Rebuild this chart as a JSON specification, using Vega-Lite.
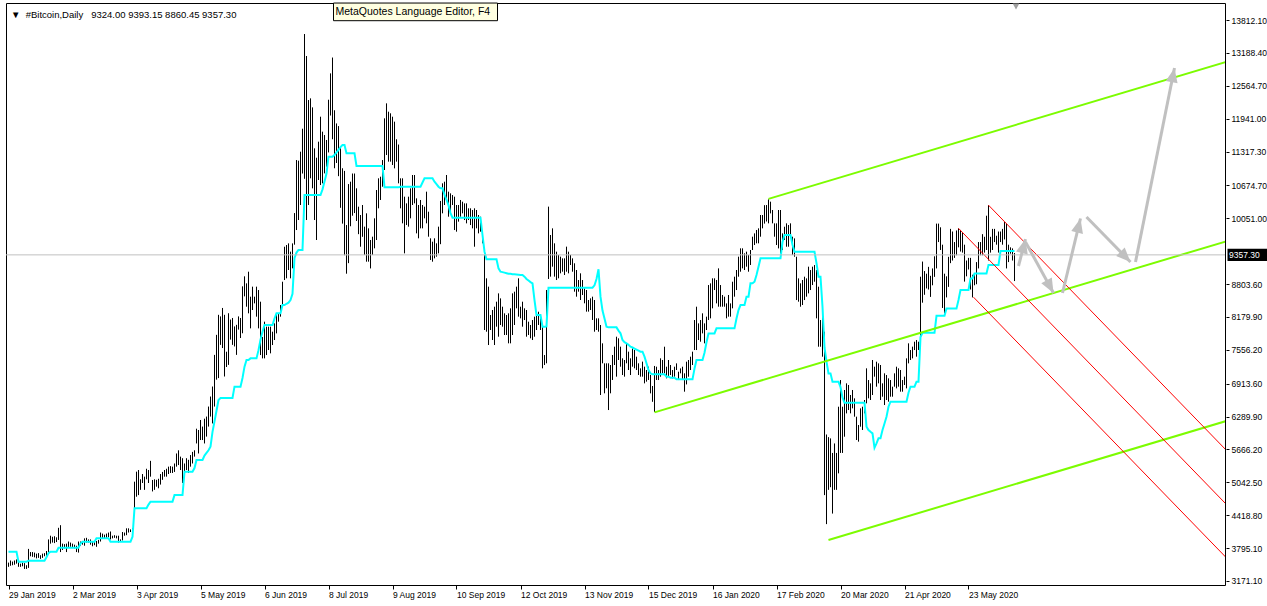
{
"$schema":"https://vega.github.io/schema/vega-lite/v6.json",
"width":1219,"height":582,
"autosize":{"type":"none"},
"padding":{"left":6,"top":3,"right":42,"bottom":21},
"background":"white",
"config":{"view":{"stroke":"black","strokeWidth":1},"font":"Liberation Sans"},
"title":{"text":"▼\u00a0\u00a0#Bitcoin,Daily\u00a0\u00a0\u00a09324.00 9393.15 8860.45 9357.30","anchor":"start","frame":"group","orient":"top","offset":-25,"baseline":"alphabetic","dx":5,"font":"Liberation Sans","fontSize":9.5,"fontWeight":"normal","color":"black"},
"datasets":{
"bars":[
{"t":"2019-01-29","h":3520,"l":3440,"k":3727},{"t":"2019-01-30","h":3560,"l":3460,"k":3727},{"t":"2019-01-31","h":3540,"l":3470,"k":3727},
{"t":"2019-02-01","h":3560,"l":3480,"k":3727},{"t":"2019-02-02","h":3580,"l":3500,"k":3727},{"t":"2019-02-03","h":3540,"l":3440,"k":3537},{"t":"2019-02-04","h":3500,"l":3440,"k":3537},{"t":"2019-02-05","h":3520,"l":3450,"k":3537},{"t":"2019-02-06","h":3510,"l":3400,"k":3537},{"t":"2019-02-07","h":3470,"l":3400,"k":3537},{"t":"2019-02-08","h":3780,"l":3420,"k":3556},{"t":"2019-02-09","h":3720,"l":3640,"k":3556},{"t":"2019-02-10","h":3720,"l":3630,"k":3556},{"t":"2019-02-11","h":3710,"l":3620,"k":3556},{"t":"2019-02-12","h":3690,"l":3600,"k":3556},{"t":"2019-02-13","h":3700,"l":3610,"k":3556},{"t":"2019-02-14","h":3660,"l":3590,"k":3556},{"t":"2019-02-15","h":3690,"l":3610,"k":3556},{"t":"2019-02-16","h":3700,"l":3640,"k":3556},{"t":"2019-02-17","h":3740,"l":3650,"k":3620},{"t":"2019-02-18","h":3960,"l":3700,"k":3700},{"t":"2019-02-19","h":4030,"l":3880,"k":3727},{"t":"2019-02-20","h":4010,"l":3900,"k":3727},{"t":"2019-02-21","h":4020,"l":3890,"k":3727},{"t":"2019-02-22","h":4000,"l":3910,"k":3727},{"t":"2019-02-23","h":4180,"l":3950,"k":3803},{"t":"2019-02-24","h":4230,"l":3720,"k":3803},{"t":"2019-02-25","h":3880,"l":3760,"k":3803},{"t":"2019-02-26","h":3870,"l":3790,"k":3803},{"t":"2019-02-27","h":3880,"l":3720,"k":3803},{"t":"2019-02-28","h":3920,"l":3800,"k":3803},
{"t":"2019-03-01","h":3900,"l":3820,"k":3803},{"t":"2019-03-02","h":3880,"l":3810,"k":3803},{"t":"2019-03-03","h":3860,"l":3790,"k":3803},{"t":"2019-03-04","h":3840,"l":3720,"k":3803},{"t":"2019-03-05","h":3920,"l":3710,"k":3803},{"t":"2019-03-06","h":3920,"l":3840,"k":3880},{"t":"2019-03-07","h":3930,"l":3860,"k":3917},{"t":"2019-03-08","h":3980,"l":3840,"k":3917},{"t":"2019-03-09","h":3990,"l":3900,"k":3917},{"t":"2019-03-10","h":3960,"l":3900,"k":3917},{"t":"2019-03-11","h":3960,"l":3860,"k":3917},{"t":"2019-03-12","h":3910,"l":3830,"k":3917},{"t":"2019-03-13","h":3910,"l":3850,"k":3917},{"t":"2019-03-14","h":3930,"l":3820,"k":3980},{"t":"2019-03-15","h":3950,"l":3880,"k":3980},{"t":"2019-03-16","h":4090,"l":3920,"k":3980},{"t":"2019-03-17","h":4070,"l":3980,"k":3980},{"t":"2019-03-18","h":4050,"l":3980,"k":3980},{"t":"2019-03-19","h":4070,"l":3990,"k":3980},{"t":"2019-03-20","h":4090,"l":4000,"k":3980},{"t":"2019-03-21","h":4110,"l":3960,"k":3917},{"t":"2019-03-22","h":4030,"l":3980,"k":3917},{"t":"2019-03-23","h":4040,"l":3990,"k":3917},{"t":"2019-03-24","h":4030,"l":3980,"k":3917},{"t":"2019-03-25","h":4030,"l":3900,"k":3917},{"t":"2019-03-26","h":3960,"l":3910,"k":3917},{"t":"2019-03-27","h":4100,"l":3940,"k":3917},{"t":"2019-03-28","h":4090,"l":4030,"k":3917},{"t":"2019-03-29","h":4170,"l":4040,"k":3917},{"t":"2019-03-30","h":4170,"l":4090,"k":3917},{"t":"2019-03-31","h":4150,"l":4100,"k":3917},
{"t":"2019-04-01","h":4175,"l":4090,"k":4010},{"t":"2019-04-02","h":5055,"l":4450,"k":4550},{"t":"2019-04-03","h":5245,"l":4770,"k":4550},{"t":"2019-04-04","h":5276,"l":4800,"k":4550},{"t":"2019-04-05","h":5100,"l":4900,"k":4550},{"t":"2019-04-06","h":5200,"l":5030,"k":4550},{"t":"2019-04-07","h":5150,"l":4900,"k":4550},{"t":"2019-04-08","h":5300,"l":5100,"k":4550},{"t":"2019-04-09","h":5276,"l":5030,"k":4620},{"t":"2019-04-10","h":5450,"l":5150,"k":4676},{"t":"2019-04-11","h":5087,"l":4870,"k":4676},{"t":"2019-04-12","h":5100,"l":4900,"k":4676},{"t":"2019-04-13","h":5090,"l":4960,"k":4676},{"t":"2019-04-14","h":5110,"l":4930,"k":4676},{"t":"2019-04-15","h":5200,"l":5000,"k":4676},{"t":"2019-04-16","h":5240,"l":5090,"k":4676},{"t":"2019-04-17","h":5276,"l":5150,"k":4676},{"t":"2019-04-18","h":5300,"l":5150,"k":4676},{"t":"2019-04-19","h":5340,"l":5200,"k":4676},{"t":"2019-04-20","h":5350,"l":5220,"k":4676},{"t":"2019-04-21","h":5340,"l":5220,"k":4676},{"t":"2019-04-22","h":5400,"l":5240,"k":4800},{"t":"2019-04-23","h":5590,"l":5340,"k":4800},{"t":"2019-04-24","h":5650,"l":5370,"k":4800},{"t":"2019-04-25","h":5530,"l":5276,"k":4800},{"t":"2019-04-26","h":5500,"l":5030,"k":4800},{"t":"2019-04-27","h":5400,"l":5150,"k":5245},{"t":"2019-04-28","h":5500,"l":5276,"k":5245},{"t":"2019-04-29","h":5470,"l":5220,"k":5245},{"t":"2019-04-30","h":5560,"l":5340,"k":5245},
{"t":"2019-05-01","h":5620,"l":5400,"k":5245},{"t":"2019-05-02","h":5650,"l":5530,"k":5313},{"t":"2019-05-03","h":6060,"l":5780,"k":5466},{"t":"2019-05-04","h":6035,"l":5590,"k":5466},{"t":"2019-05-05","h":6225,"l":5845,"k":5466},{"t":"2019-05-06","h":6100,"l":5845,"k":5466},{"t":"2019-05-07","h":6250,"l":5780,"k":5550},{"t":"2019-05-08","h":6290,"l":5910,"k":5600},{"t":"2019-05-09","h":6480,"l":6100,"k":5650},{"t":"2019-05-10","h":6670,"l":6290,"k":5719},{"t":"2019-05-11","h":6860,"l":6160,"k":6000},{"t":"2019-05-12","h":7460,"l":6480,"k":6200},{"t":"2019-05-13","h":7840,"l":6990,"k":6400},{"t":"2019-05-14","h":8220,"l":7020,"k":6604},{"t":"2019-05-15","h":8190,"l":7650,"k":6642},{"t":"2019-05-16","h":8350,"l":7590,"k":6642},{"t":"2019-05-17","h":8220,"l":7050,"k":6642},{"t":"2019-05-18","h":7520,"l":7230,"k":6642},{"t":"2019-05-19","h":8250,"l":7270,"k":6642},{"t":"2019-05-20","h":8130,"l":7750,"k":6642},{"t":"2019-05-21","h":8160,"l":7650,"k":6642},{"t":"2019-05-22","h":8000,"l":7620,"k":6857},{"t":"2019-05-23","h":8030,"l":7460,"k":6857},{"t":"2019-05-24","h":8190,"l":7940,"k":6857},{"t":"2019-05-25","h":8160,"l":7780,"k":6857},{"t":"2019-05-26","h":8760,"l":7870,"k":7021},{"t":"2019-05-27","h":8950,"l":8570,"k":7236},{"t":"2019-05-28","h":8817,"l":8374,"k":7363},{"t":"2019-05-29","h":9038,"l":8248,"k":7363},{"t":"2019-05-30","h":8564,"l":7963,"k":7394},{"t":"2019-05-31","h":8754,"l":8311,"k":7394},
{"t":"2019-06-01","h":8564,"l":8437,"k":7394},{"t":"2019-06-02","h":8754,"l":8185,"k":7394},{"t":"2019-06-03","h":8690,"l":7963,"k":7550},{"t":"2019-06-04","h":8469,"l":7457,"k":7750},{"t":"2019-06-05","h":7800,"l":7394,"k":7900},{"t":"2019-06-06","h":8090,"l":7394,"k":8027},{"t":"2019-06-07","h":7995,"l":7457,"k":8027},{"t":"2019-06-08","h":7995,"l":7552,"k":8027},{"t":"2019-06-09","h":7995,"l":7489,"k":8027},{"t":"2019-06-10","h":7900,"l":7647,"k":8027},{"t":"2019-06-11","h":8058,"l":7742,"k":8150},{"t":"2019-06-12","h":8248,"l":7868,"k":8248},{"t":"2019-06-13","h":8248,"l":8090,"k":8248},{"t":"2019-06-14","h":8406,"l":8185,"k":8248},{"t":"2019-06-15","h":8848,"l":8374,"k":8406},{"t":"2019-06-16","h":9512,"l":8880,"k":8406},{"t":"2019-06-17","h":9544,"l":8912,"k":8430},{"t":"2019-06-18","h":9575,"l":9070,"k":8450},{"t":"2019-06-19","h":9418,"l":8912,"k":8500},{"t":"2019-06-20","h":9575,"l":9101,"k":8620},{"t":"2019-06-21","h":10150,"l":9550,"k":9300},{"t":"2019-06-22","h":11156,"l":9828,"k":9400},{"t":"2019-06-23","h":11144,"l":10018,"k":9450},{"t":"2019-06-24","h":11314,"l":10303,"k":9450},{"t":"2019-06-25","h":11750,"l":10900,"k":9450},{"t":"2019-06-26","h":13546,"l":10800,"k":10492},{"t":"2019-06-27","h":13129,"l":10018,"k":10492},{"t":"2019-06-28","h":12294,"l":10303,"k":10492},{"t":"2019-06-29","h":12326,"l":10809,"k":10492},{"t":"2019-06-30","h":12155,"l":10619,"k":10492},
{"t":"2019-07-01","h":11378,"l":10018,"k":10492},{"t":"2019-07-02","h":11200,"l":9639,"k":10492},{"t":"2019-07-03","h":11504,"l":10777,"k":10492},{"t":"2019-07-04","h":11978,"l":10682,"k":10492},{"t":"2019-07-05","h":11694,"l":10714,"k":10600},{"t":"2019-07-06","h":11630,"l":10903,"k":10750},{"t":"2019-07-07","h":11536,"l":11030,"k":10900},{"t":"2019-07-08","h":12300,"l":11300,"k":11220},{"t":"2019-07-09","h":12800,"l":12000,"k":11220},{"t":"2019-07-10","h":13100,"l":11550,"k":11220},{"t":"2019-07-11","h":12100,"l":11000,"k":11250},{"t":"2019-07-12","h":11850,"l":11100,"k":11300},{"t":"2019-07-13","h":11800,"l":10850,"k":11350},{"t":"2019-07-14","h":11400,"l":10250,"k":11400},{"t":"2019-07-15","h":11000,"l":9950,"k":11441},{"t":"2019-07-16","h":10950,"l":9350,"k":11441},{"t":"2019-07-17","h":9923,"l":9000,"k":11283},{"t":"2019-07-18","h":10700,"l":9200,"k":11283},{"t":"2019-07-19","h":10745,"l":9900,"k":11283},{"t":"2019-07-20","h":10900,"l":10100,"k":11283},{"t":"2019-07-21","h":10900,"l":10150,"k":11283},{"t":"2019-07-22","h":10619,"l":10000,"k":11043},{"t":"2019-07-23","h":10271,"l":9750,"k":11043},{"t":"2019-07-24","h":10113,"l":9512,"k":11043},{"t":"2019-07-25","h":10303,"l":9700,"k":11043},{"t":"2019-07-26","h":9892,"l":9354,"k":11043},{"t":"2019-07-27","h":10145,"l":9228,"k":11043},{"t":"2019-07-28","h":9860,"l":9228,"k":11043},{"t":"2019-07-29","h":9639,"l":9100,"k":11043},{"t":"2019-07-30","h":9702,"l":9354,"k":11043},{"t":"2019-07-31","h":10050,"l":9481,"k":11043},
{"t":"2019-08-01","h":10587,"l":9639,"k":11043},{"t":"2019-08-02","h":10809,"l":10240,"k":11043},{"t":"2019-08-03","h":10840,"l":10398,"k":11043},{"t":"2019-08-04","h":11156,"l":10650,"k":11043},{"t":"2019-08-05","h":11947,"l":10967,"k":10638},{"t":"2019-08-06","h":12231,"l":11251,"k":10638},{"t":"2019-08-07","h":12073,"l":11125,"k":10638},{"t":"2019-08-08","h":12042,"l":11125,"k":10638},{"t":"2019-08-09","h":11978,"l":11062,"k":10638},{"t":"2019-08-10","h":11884,"l":10998,"k":10638},{"t":"2019-08-11","h":11550,"l":11125,"k":10638},{"t":"2019-08-12","h":11450,"l":10714,"k":10638},{"t":"2019-08-13","h":10809,"l":10240,"k":10650},{"t":"2019-08-14","h":10809,"l":9955,"k":10650},{"t":"2019-08-15","h":10461,"l":9386,"k":10650},{"t":"2019-08-16","h":10334,"l":9923,"k":10650},{"t":"2019-08-17","h":10461,"l":9892,"k":10650},{"t":"2019-08-18","h":10619,"l":10050,"k":10650},{"t":"2019-08-19","h":10872,"l":10303,"k":10650},{"t":"2019-08-20","h":10872,"l":10334,"k":10650},{"t":"2019-08-21","h":10429,"l":9765,"k":10650},{"t":"2019-08-22","h":10303,"l":9671,"k":10650},{"t":"2019-08-23","h":10398,"l":9860,"k":10650},{"t":"2019-08-24","h":10303,"l":9860,"k":10730},{"t":"2019-08-25","h":10271,"l":10050,"k":10809},{"t":"2019-08-26","h":10556,"l":9955,"k":10809},{"t":"2019-08-27","h":10176,"l":9702,"k":10809},{"t":"2019-08-28","h":9671,"l":9260,"k":10809},{"t":"2019-08-29","h":9607,"l":9228,"k":10809},{"t":"2019-08-30","h":9671,"l":9291,"k":10745},{"t":"2019-08-31","h":9576,"l":9323,"k":10700},
{"t":"2019-09-01","h":9892,"l":9386,"k":10650},{"t":"2019-09-02","h":10380,"l":9560,"k":10619},{"t":"2019-09-03","h":10714,"l":10145,"k":10619},{"t":"2019-09-04","h":10745,"l":10303,"k":10500},{"t":"2019-09-05","h":10872,"l":10429,"k":10400},{"t":"2019-09-06","h":10556,"l":10081,"k":10300},{"t":"2019-09-07","h":10524,"l":10176,"k":10150},{"t":"2019-09-08","h":10492,"l":10303,"k":10062},{"t":"2019-09-09","h":10461,"l":9828,"k":10062},{"t":"2019-09-10","h":10303,"l":9797,"k":10062},{"t":"2019-09-11","h":10303,"l":9987,"k":10062},{"t":"2019-09-12","h":10398,"l":10081,"k":10062},{"t":"2019-09-13","h":10366,"l":10145,"k":10062},{"t":"2019-09-14","h":10334,"l":10018,"k":10062},{"t":"2019-09-15","h":10334,"l":9955,"k":10062},{"t":"2019-09-16","h":10240,"l":10018,"k":10062},{"t":"2019-09-17","h":10240,"l":9923,"k":10062},{"t":"2019-09-18","h":10208,"l":9860,"k":10062},{"t":"2019-09-19","h":10240,"l":9512,"k":10062},{"t":"2019-09-20","h":10208,"l":9860,"k":10062},{"t":"2019-09-21","h":10113,"l":9765,"k":10062},{"t":"2019-09-22","h":10081,"l":9797,"k":10062},{"t":"2019-09-23","h":9734,"l":9576,"k":9734},{"t":"2019-09-24","h":9354,"l":7932,"k":9418},{"t":"2019-09-25","h":8912,"l":7900,"k":9272},{"t":"2019-09-26","h":8754,"l":7647,"k":9272},{"t":"2019-09-27","h":8216,"l":7932,"k":9272},{"t":"2019-09-28","h":8311,"l":7742,"k":9272},{"t":"2019-09-29","h":8374,"l":7647,"k":9272},{"t":"2019-09-30","h":8469,"l":7995,"k":9272},
{"t":"2019-10-01","h":8627,"l":7805,"k":9101},{"t":"2019-10-02","h":8532,"l":8027,"k":9038},{"t":"2019-10-03","h":8374,"l":7995,"k":9030},{"t":"2019-10-04","h":8248,"l":7837,"k":9020},{"t":"2019-10-05","h":8216,"l":7837,"k":9010},{"t":"2019-10-06","h":8248,"l":7679,"k":9000},{"t":"2019-10-07","h":8343,"l":7679,"k":9000},{"t":"2019-10-08","h":8627,"l":7837,"k":8990},{"t":"2019-10-09","h":8659,"l":8027,"k":8990},{"t":"2019-10-10","h":8754,"l":8343,"k":8985},{"t":"2019-10-11","h":8912,"l":8185,"k":8980},{"t":"2019-10-12","h":8374,"l":8153,"k":8975},{"t":"2019-10-13","h":8469,"l":7995,"k":8975},{"t":"2019-10-14","h":8343,"l":8121,"k":8943},{"t":"2019-10-15","h":8311,"l":7805,"k":8900},{"t":"2019-10-16","h":8090,"l":7837,"k":8870},{"t":"2019-10-17","h":8027,"l":7774,"k":8840},{"t":"2019-10-18","h":8121,"l":7742,"k":8817},{"t":"2019-10-19","h":8185,"l":7805,"k":8500},{"t":"2019-10-20","h":8216,"l":7932,"k":8216},{"t":"2019-10-21","h":8279,"l":8027,"k":8216},{"t":"2019-10-22","h":8153,"l":7932,"k":8216},{"t":"2019-10-23","h":8027,"l":7205,"k":7995},{"t":"2019-10-24","h":7457,"l":7268,"k":7995},{"t":"2019-10-25","h":8691,"l":7300,"k":8000},{"t":"2019-10-26","h":10272,"l":8900,"k":8735},{"t":"2019-10-27","h":9734,"l":8944,"k":8735},{"t":"2019-10-28","h":9860,"l":9133,"k":8735},{"t":"2019-10-29","h":9576,"l":8944,"k":8735},{"t":"2019-10-30","h":9418,"l":8880,"k":8735},{"t":"2019-10-31","h":9354,"l":8912,"k":8735},
{"t":"2019-11-01","h":9323,"l":9007,"k":8735},{"t":"2019-11-02","h":9291,"l":9038,"k":8735},{"t":"2019-11-03","h":9291,"l":8975,"k":8735},{"t":"2019-11-04","h":9513,"l":9038,"k":8735},{"t":"2019-11-05","h":9418,"l":9007,"k":8735},{"t":"2019-11-06","h":9354,"l":9165,"k":8735},{"t":"2019-11-07","h":9291,"l":9038,"k":8735},{"t":"2019-11-08","h":9197,"l":8659,"k":8735},{"t":"2019-11-09","h":9070,"l":8564,"k":8735},{"t":"2019-11-10","h":8880,"l":8659,"k":8735},{"t":"2019-11-11","h":9007,"l":8501,"k":8735},{"t":"2019-11-12","h":8880,"l":8596,"k":8735},{"t":"2019-11-13","h":8722,"l":8438,"k":8735},{"t":"2019-11-14","h":8691,"l":8280,"k":8735},{"t":"2019-11-15","h":8501,"l":8280,"k":8735},{"t":"2019-11-16","h":8533,"l":8311,"k":8735},{"t":"2019-11-17","h":8564,"l":8122,"k":8735},{"t":"2019-11-18","h":8501,"l":7900,"k":8780},{"t":"2019-11-19","h":8153,"l":7932,"k":8900},{"t":"2019-11-20","h":8153,"l":7900,"k":9083},{"t":"2019-11-21","h":8027,"l":6699,"k":8564},{"t":"2019-11-22","h":7679,"l":7300,"k":8300},{"t":"2019-11-23","h":7300,"l":6731,"k":8150},{"t":"2019-11-24","h":7300,"l":6826,"k":7995},{"t":"2019-11-25","h":7300,"l":6414,"k":7982},{"t":"2019-11-26","h":7268,"l":6731,"k":7982},{"t":"2019-11-27","h":7458,"l":6984,"k":7982},{"t":"2019-11-28","h":7616,"l":7268,"k":7982},{"t":"2019-11-29","h":7805,"l":7047,"k":7982},{"t":"2019-11-30","h":7774,"l":7363,"k":7920},
{"t":"2019-12-01","h":7616,"l":7236,"k":7870},{"t":"2019-12-02","h":7395,"l":7078,"k":7742},{"t":"2019-12-03","h":7363,"l":7047,"k":7700},{"t":"2019-12-04","h":7679,"l":7300,"k":7680},{"t":"2019-12-05","h":7521,"l":7173,"k":7650},{"t":"2019-12-06","h":7395,"l":7078,"k":7616},{"t":"2019-12-07","h":7584,"l":7236,"k":7600},{"t":"2019-12-08","h":7553,"l":7205,"k":7580},{"t":"2019-12-09","h":7426,"l":7173,"k":7560},{"t":"2019-12-10","h":7300,"l":7078,"k":7540},{"t":"2019-12-11","h":7205,"l":7047,"k":7521},{"t":"2019-12-12","h":7332,"l":7047,"k":7521},{"t":"2019-12-13","h":7237,"l":6920,"k":7426},{"t":"2019-12-14","h":7173,"l":6952,"k":7300},{"t":"2019-12-15","h":7237,"l":6984,"k":7173},{"t":"2019-12-16","h":7080,"l":6730,"k":7110},{"t":"2019-12-17","h":6870,"l":6570,"k":7091},{"t":"2019-12-18","h":7250,"l":6377,"k":7091},{"t":"2019-12-19","h":7236,"l":6984,"k":7091},{"t":"2019-12-20","h":7173,"l":6983,"k":7091},{"t":"2019-12-21","h":7395,"l":7046,"k":7091},{"t":"2019-12-22","h":7363,"l":7110,"k":7091},{"t":"2019-12-23","h":7615,"l":7110,"k":7091},{"t":"2019-12-24","h":7236,"l":7015,"k":7047},{"t":"2019-12-25","h":7363,"l":7046,"k":7047},{"t":"2019-12-26","h":7268,"l":7078,"k":7028},{"t":"2019-12-27","h":7173,"l":7015,"k":7028},{"t":"2019-12-28","h":7236,"l":7046,"k":7028},{"t":"2019-12-29","h":7299,"l":7173,"k":6996},{"t":"2019-12-30","h":7141,"l":6983,"k":6996},{"t":"2019-12-31","h":7204,"l":7110,"k":6996},
{"t":"2020-01-01","h":7236,"l":6983,"k":6996},{"t":"2020-01-02","h":7110,"l":6762,"k":6996},{"t":"2020-01-03","h":7331,"l":6900,"k":6996},{"t":"2020-01-04","h":7363,"l":7046,"k":6996},{"t":"2020-01-05","h":7426,"l":7173,"k":6996},{"t":"2020-01-06","h":7521,"l":7268,"k":6996},{"t":"2020-01-07","h":8121,"l":7552,"k":7200},{"t":"2020-01-08","h":8374,"l":7552,"k":7363},{"t":"2020-01-09","h":8058,"l":7742,"k":7363},{"t":"2020-01-10","h":8121,"l":7710,"k":7363},{"t":"2020-01-11","h":8248,"l":7868,"k":7363},{"t":"2020-01-12","h":8058,"l":7679,"k":7500},{"t":"2020-01-13","h":8185,"l":7932,"k":7700},{"t":"2020-01-14","h":8785,"l":8121,"k":7868},{"t":"2020-01-15","h":8817,"l":8153,"k":7868},{"t":"2020-01-16","h":8912,"l":8343,"k":7868},{"t":"2020-01-17","h":8912,"l":8690,"k":7868},{"t":"2020-01-18","h":8880,"l":8437,"k":7963},{"t":"2020-01-19","h":9101,"l":8374,"k":7963},{"t":"2020-01-20","h":8785,"l":8374,"k":7963},{"t":"2020-01-21","h":8596,"l":8374,"k":7963},{"t":"2020-01-22","h":8564,"l":8374,"k":7963},{"t":"2020-01-23","h":8437,"l":8153,"k":7963},{"t":"2020-01-24","h":8596,"l":8185,"k":7963},{"t":"2020-01-25","h":8437,"l":8185,"k":7963},{"t":"2020-01-26","h":8848,"l":8343,"k":7963},{"t":"2020-01-27","h":8943,"l":8564,"k":7963},{"t":"2020-01-28","h":9070,"l":8690,"k":8150},{"t":"2020-01-29","h":9323,"l":8943,"k":8311},{"t":"2020-01-30","h":9481,"l":9038,"k":8406},{"t":"2020-01-31","h":9481,"l":9101,"k":8406},
{"t":"2020-02-01","h":9386,"l":9070,"k":8406},{"t":"2020-02-02","h":9418,"l":9133,"k":8564},{"t":"2020-02-03","h":9354,"l":9038,"k":8564},{"t":"2020-02-04","h":9449,"l":9165,"k":8817},{"t":"2020-02-05","h":9702,"l":9449,"k":8817},{"t":"2020-02-06","h":9765,"l":9544,"k":8848},{"t":"2020-02-07","h":9829,"l":9576,"k":8975},{"t":"2020-02-08","h":9860,"l":9576,"k":9133},{"t":"2020-02-09","h":10113,"l":9702,"k":9291},{"t":"2020-02-10","h":10113,"l":9860,"k":9291},{"t":"2020-02-11","h":10300,"l":9950,"k":9291},{"t":"2020-02-12","h":10302,"l":9990,"k":9291},{"t":"2020-02-13","h":10410,"l":9955,"k":9291},{"t":"2020-02-14","h":10366,"l":10144,"k":9291},{"t":"2020-02-15","h":10208,"l":9955,"k":9291},{"t":"2020-02-16","h":9955,"l":9702,"k":9291},{"t":"2020-02-17","h":9955,"l":9544,"k":9291},{"t":"2020-02-18","h":10208,"l":9480,"k":9291},{"t":"2020-02-19","h":10208,"l":9386,"k":9291},{"t":"2020-02-20","h":9765,"l":9449,"k":9600},{"t":"2020-02-21","h":9891,"l":9639,"k":9733},{"t":"2020-02-22","h":9955,"l":9512,"k":9733},{"t":"2020-02-23","h":9923,"l":9512,"k":9733},{"t":"2020-02-24","h":9955,"l":9702,"k":9733},{"t":"2020-02-25","h":9702,"l":9354,"k":9550},{"t":"2020-02-26","h":9670,"l":9322,"k":9417},{"t":"2020-02-27","h":9322,"l":8500,"k":9417},{"t":"2020-02-28","h":8911,"l":8469,"k":9417},{"t":"2020-02-29","h":8817,"l":8374,"k":9417},
{"t":"2020-03-01","h":8880,"l":8406,"k":9417},{"t":"2020-03-02","h":8943,"l":8500,"k":9417},{"t":"2020-03-03","h":8911,"l":8564,"k":9417},{"t":"2020-03-04","h":9133,"l":8627,"k":9417},{"t":"2020-03-05","h":9069,"l":8690,"k":9417},{"t":"2020-03-06","h":9133,"l":8785,"k":9417},{"t":"2020-03-07","h":9164,"l":8848,"k":9417},{"t":"2020-03-08","h":9069,"l":8153,"k":9200},{"t":"2020-03-09","h":8753,"l":7615,"k":8943},{"t":"2020-03-10","h":8121,"l":7615,"k":8943},{"t":"2020-03-11","h":8374,"l":7426,"k":8374},{"t":"2020-03-12","h":7900,"l":4800,"k":7600},{"t":"2020-03-13","h":5950,"l":4250,"k":7331},{"t":"2020-03-14","h":5900,"l":4900,"k":7109},{"t":"2020-03-15","h":5876,"l":4950,"k":7109},{"t":"2020-03-16","h":5600,"l":4450,"k":6951},{"t":"2020-03-17","h":5780,"l":4900,"k":6951},{"t":"2020-03-18","h":5600,"l":4900,"k":6951},{"t":"2020-03-19","h":6477,"l":5213,"k":6951},{"t":"2020-03-20","h":6983,"l":5600,"k":6850},{"t":"2020-03-21","h":6477,"l":5600,"k":6650},{"t":"2020-03-22","h":6794,"l":5908,"k":6553},{"t":"2020-03-23","h":6920,"l":6350,"k":6553},{"t":"2020-03-24","h":6889,"l":6414,"k":6553},{"t":"2020-03-25","h":6699,"l":6351,"k":6553},{"t":"2020-03-26","h":6794,"l":6446,"k":6553},{"t":"2020-03-27","h":6636,"l":6288,"k":6553},{"t":"2020-03-28","h":6288,"l":5845,"k":6553},{"t":"2020-03-29","h":6130,"l":5814,"k":6553},{"t":"2020-03-30","h":6446,"l":6098,"k":6553},{"t":"2020-03-31","h":6477,"l":6035,"k":6553},
{"t":"2020-04-01","h":6604,"l":6351,"k":6553},{"t":"2020-04-02","h":7205,"l":6541,"k":6098},{"t":"2020-04-03","h":6983,"l":6636,"k":6035},{"t":"2020-04-04","h":6920,"l":6604,"k":6000},{"t":"2020-04-05","h":7363,"l":6699,"k":5971},{"t":"2020-04-06","h":7236,"l":7047,"k":5700},{"t":"2020-04-07","h":7331,"l":6857,"k":5782},{"t":"2020-04-08","h":7299,"l":6920,"k":5877},{"t":"2020-04-09","h":7268,"l":6604,"k":5877},{"t":"2020-04-10","h":6920,"l":6667,"k":6035},{"t":"2020-04-11","h":7110,"l":6509,"k":6160},{"t":"2020-04-12","h":7078,"l":6604,"k":6288},{"t":"2020-04-13","h":7015,"l":6572,"k":6477},{"t":"2020-04-14","h":6983,"l":6667,"k":6572},{"t":"2020-04-15","h":6857,"l":6667,"k":6572},{"t":"2020-04-16","h":7110,"l":6857,"k":6572},{"t":"2020-04-17","h":7236,"l":6825,"k":6572},{"t":"2020-04-18","h":7205,"l":6857,"k":6572},{"t":"2020-04-19","h":7173,"l":6762,"k":6572},{"t":"2020-04-20","h":6983,"l":6762,"k":6572},{"t":"2020-04-21","h":7047,"l":6889,"k":6572},{"t":"2020-04-22","h":7394,"l":6825,"k":6572},{"t":"2020-04-23","h":7679,"l":7299,"k":6743},{"t":"2020-04-24","h":7552,"l":7363,"k":6857},{"t":"2020-04-25","h":7616,"l":7394,"k":6857},{"t":"2020-04-26","h":7710,"l":7552,"k":6857},{"t":"2020-04-27","h":7742,"l":7426,"k":6952},{"t":"2020-04-28","h":7710,"l":7552,"k":6952},{"t":"2020-04-29","h":8943,"l":7800,"k":7800},{"t":"2020-04-30","h":9230,"l":8450,"k":7880},
{"t":"2020-05-01","h":9050,"l":8600,"k":7880},{"t":"2020-05-02","h":9000,"l":8720,"k":7880},{"t":"2020-05-03","h":9130,"l":8700,"k":7880},{"t":"2020-05-04","h":8960,"l":8560,"k":7880},{"t":"2020-05-05","h":9100,"l":8780,"k":7880},{"t":"2020-05-06","h":9330,"l":8940,"k":7880},{"t":"2020-05-07","h":9950,"l":9100,"k":8200},{"t":"2020-05-08","h":9950,"l":9600,"k":8200},{"t":"2020-05-09","h":9880,"l":9450,"k":8200},{"t":"2020-05-10","h":9550,"l":8350,"k":8200},{"t":"2020-05-11","h":9000,"l":8250,"k":8200},{"t":"2020-05-12","h":8950,"l":8550,"k":8342},{"t":"2020-05-13","h":9320,"l":8750,"k":8342},{"t":"2020-05-14","h":9850,"l":9200,"k":8342},{"t":"2020-05-15","h":9800,"l":9250,"k":8342},{"t":"2020-05-16","h":9600,"l":9300,"k":8342},{"t":"2020-05-17","h":9820,"l":9350,"k":8342},{"t":"2020-05-18","h":9860,"l":9500,"k":8500},{"t":"2020-05-19","h":9830,"l":9420,"k":8690},{"t":"2020-05-20","h":9780,"l":9400,"k":8690},{"t":"2020-05-21","h":9550,"l":8850,"k":8690},{"t":"2020-05-22","h":9250,"l":8950,"k":8690},{"t":"2020-05-23","h":9300,"l":9080,"k":8690},{"t":"2020-05-24","h":9300,"l":8700,"k":8911},{"t":"2020-05-25","h":8980,"l":8550,"k":8911},{"t":"2020-05-26","h":9000,"l":8780,"k":9006},{"t":"2020-05-27","h":9220,"l":8800,"k":9006},{"t":"2020-05-28","h":9600,"l":9100,"k":9006},{"t":"2020-05-29","h":9600,"l":9350,"k":9006},{"t":"2020-05-30","h":9750,"l":9350,"k":9006},{"t":"2020-05-31","h":9700,"l":9400,"k":9006},
{"t":"2020-06-01","h":10100,"l":9450,"k":9006},{"t":"2020-06-02","h":10300,"l":9250,"k":9164},{"t":"2020-06-03","h":9700,"l":9400,"k":9164},{"t":"2020-06-04","h":9850,"l":9450,"k":9164},{"t":"2020-06-05","h":9850,"l":9600,"k":9164},{"t":"2020-06-06","h":9720,"l":9550,"k":9164},{"t":"2020-06-07","h":9800,"l":9400,"k":9164},{"t":"2020-06-08","h":9800,"l":9600,"k":9430},{"t":"2020-06-09","h":9850,"l":9550,"k":9430},{"t":"2020-06-10","h":9980,"l":9650,"k":9430},{"t":"2020-06-11","h":9950,"l":9100,"k":9430},{"t":"2020-06-12","h":9550,"l":9220,"k":9430},{"t":"2020-06-13","h":9500,"l":9380,"k":9430},{"t":"2020-06-14","h":9480,"l":9250,"k":9430},{"t":"2020-06-15","h":9393.15,"l":8860.45,"k":9430}
],
"ch":[
{"g":"G1","t":"2020-02-13","p":10420},{"g":"G1","t":"2020-09-30","p":13030},
{"g":"G2","t":"2019-12-18","p":6370},{"g":"G2","t":"2020-09-30","p":9627},
{"g":"G3","t":"2020-03-14","p":3949},{"g":"G3","t":"2020-09-30","p":6219}
],
"pf":[
{"g":"A","t":"2020-06-02","p":10300},{"g":"A","t":"2020-09-30","p":5608},
{"g":"B","t":"2020-05-18","p":9860},{"g":"B","t":"2020-09-30","p":4582},
{"g":"C","t":"2020-05-25T12:00:00Z","p":8555},{"g":"C","t":"2020-09-30","p":3570}
],
"ar":[
{"a":1,"t1":"2020-06-17","p1":9146,"t2":"2020-06-20T12:00:00Z","p2":9658},
{"a":2,"t1":"2020-06-20T12:00:00Z","p1":9601,"t2":"2020-07-04T12:00:00Z","p2":8634},
{"a":3,"t1":"2020-07-09","p1":8634,"t2":"2020-07-18","p2":10047},
{"a":4,"t1":"2020-07-21","p1":10075,"t2":"2020-08-12","p2":9222},
{"a":5,"t1":"2020-08-14T12:00:00Z","p1":9222,"t2":"2020-09-03","p2":12902}
],
"mk":[{"t":"2020-06-15T18:00:00Z","p":14068}],
"tip":[{"t1":"2019-07-10T12:00:00Z","t2":"2019-09-30T12:00:00Z","p1":14134,"p2":13799,"tt":"2019-07-11T12:00:00Z","tp":13964,"s":"MetaQuotes Language Editor, F4"}],
"cur":[{"t1":"2020-09-29T12:00:00Z","t2":"2020-10-19T06:00:00Z","p1":9471,"p2":9243,"tt":"2020-09-30T06:00:00Z","tp":9357.3,"s":"9357.30"}]
},
"layer":[
{"data":{"name":"bars"},
 "mark":{"type":"rule","color":"black","strokeWidth":1},
 "encoding":{
  "x":{"field":"t","type":"temporal","scale":{"type":"utc","domain":[{"year":2019,"month":1,"date":27,"hours":18,"utc":true},{"year":2020,"month":9,"date":28,"hours":6,"utc":true}]},
   "axis":{"orient":"bottom","title":null,"grid":false,"domain":false,"format":"%-d %b %Y","formatType":"utc","labelExpr":"utcFormat(datum.value, '%-d %b %Y')","labelAlign":"left","labelBaseline":"top","labelPadding":1,"tickSize":4,"tickColor":"black","labelFont":"Liberation Sans","labelFontSize":8.5,"labelColor":"black","labelOverlap":false,"labelFlush":false,"labelBound":false,"values":[1548720000000,1551484800000,1554249600000,1557014400000,1559779200000,1562544000000,1565308800000,1568073600000,1570838400000,1573603200000,1576368000000,1579132800000,1581897600000,1584662400000,1587427200000,1590192000000]}},
  "y":{"field":"l","type":"quantitative","scale":{"domain":[3095.2,14134.6],"nice":false,"zero":false},
   "axis":{"orient":"right","title":null,"grid":false,"domain":false,"format":".2f","offset":1,"tickSize":3,"tickColor":"black","labelPadding":2,"labelFont":"Liberation Sans","labelFontSize":8.5,"labelColor":"black","labelOverlap":false,"labelFlush":false,"labelBound":false,"values":[13812.1,13188.4,12564.7,11941,11317.3,10674.7,10051,8803.6,8179.9,7556.2,6913.6,6289.9,5666.2,5042.5,4418.8,3795.1,3171.1]}},
  "y2":{"field":"h"}}},
{"data":{"name":"bars"},
 "mark":{"type":"line","color":"#00ffff","strokeWidth":2,"clip":true},
 "encoding":{
  "x":{"field":"t","type":"temporal","scale":{"type":"utc"},
   "axis":{"orient":"bottom","title":null,"grid":false,"domain":false,"format":"%-d %b %Y","formatType":"utc","labelExpr":"utcFormat(datum.value, '%-d %b %Y')","labelAlign":"left","labelBaseline":"top","labelPadding":1,"tickSize":4,"tickColor":"black","labelFont":"Liberation Sans","labelFontSize":8.5,"labelColor":"black","labelOverlap":false,"labelFlush":false,"labelBound":false,"values":[1548720000000,1551484800000,1554249600000,1557014400000,1559779200000,1562544000000,1565308800000,1568073600000,1570838400000,1573603200000,1576368000000,1579132800000,1581897600000,1584662400000,1587427200000,1590192000000]}},
  "y":{"field":"k","type":"quantitative",
   "axis":{"orient":"right","title":null,"grid":false,"domain":false,"format":".2f","offset":1,"tickSize":3,"tickColor":"black","labelPadding":2,"labelFont":"Liberation Sans","labelFontSize":8.5,"labelColor":"black","labelOverlap":false,"labelFlush":false,"labelBound":false,"values":[13812.1,13188.4,12564.7,11941,11317.3,10674.7,10051,8803.6,8179.9,7556.2,6913.6,6289.9,5666.2,5042.5,4418.8,3795.1,3171.1]}}}},
{"data":{"name":"ch"},
 "mark":{"type":"line","color":"#7cfc00","strokeWidth":2,"clip":true},
 "encoding":{
  "x":{"field":"t","type":"temporal","scale":{"type":"utc"},
   "axis":{"orient":"bottom","title":null,"grid":false,"domain":false,"format":"%-d %b %Y","formatType":"utc","labelExpr":"utcFormat(datum.value, '%-d %b %Y')","labelAlign":"left","labelBaseline":"top","labelPadding":1,"tickSize":4,"tickColor":"black","labelFont":"Liberation Sans","labelFontSize":8.5,"labelColor":"black","labelOverlap":false,"labelFlush":false,"labelBound":false,"values":[1548720000000,1551484800000,1554249600000,1557014400000,1559779200000,1562544000000,1565308800000,1568073600000,1570838400000,1573603200000,1576368000000,1579132800000,1581897600000,1584662400000,1587427200000,1590192000000]}},
  "y":{"field":"p","type":"quantitative",
   "axis":{"orient":"right","title":null,"grid":false,"domain":false,"format":".2f","offset":1,"tickSize":3,"tickColor":"black","labelPadding":2,"labelFont":"Liberation Sans","labelFontSize":8.5,"labelColor":"black","labelOverlap":false,"labelFlush":false,"labelBound":false,"values":[13812.1,13188.4,12564.7,11941,11317.3,10674.7,10051,8803.6,8179.9,7556.2,6913.6,6289.9,5666.2,5042.5,4418.8,3795.1,3171.1]}},
  "detail":{"field":"g"}}},
{"data":{"name":"pf"},
 "mark":{"type":"line","color":"#ff0000","strokeWidth":1,"clip":true},
 "encoding":{
  "x":{"field":"t","type":"temporal","scale":{"type":"utc"},
   "axis":{"orient":"bottom","title":null,"grid":false,"domain":false,"format":"%-d %b %Y","formatType":"utc","labelExpr":"utcFormat(datum.value, '%-d %b %Y')","labelAlign":"left","labelBaseline":"top","labelPadding":1,"tickSize":4,"tickColor":"black","labelFont":"Liberation Sans","labelFontSize":8.5,"labelColor":"black","labelOverlap":false,"labelFlush":false,"labelBound":false,"values":[1548720000000,1551484800000,1554249600000,1557014400000,1559779200000,1562544000000,1565308800000,1568073600000,1570838400000,1573603200000,1576368000000,1579132800000,1581897600000,1584662400000,1587427200000,1590192000000]}},
  "y":{"field":"p","type":"quantitative",
   "axis":{"orient":"right","title":null,"grid":false,"domain":false,"format":".2f","offset":1,"tickSize":3,"tickColor":"black","labelPadding":2,"labelFont":"Liberation Sans","labelFontSize":8.5,"labelColor":"black","labelOverlap":false,"labelFlush":false,"labelBound":false,"values":[13812.1,13188.4,12564.7,11941,11317.3,10674.7,10051,8803.6,8179.9,7556.2,6913.6,6289.9,5666.2,5042.5,4418.8,3795.1,3171.1]}},
  "detail":{"field":"g"}}},
{"data":{"name":"cur"},
 "mark":{"type":"rule","color":"#c0c0c0","strokeWidth":1},
 "encoding":{"y":{"field":"tp","type":"quantitative",
   "axis":{"orient":"right","title":null,"grid":false,"domain":false,"format":".2f","offset":1,"tickSize":3,"tickColor":"black","labelPadding":2,"labelFont":"Liberation Sans","labelFontSize":8.5,"labelColor":"black","labelOverlap":false,"labelFlush":false,"labelBound":false,"values":[13812.1,13188.4,12564.7,11941,11317.3,10674.7,10051,8803.6,8179.9,7556.2,6913.6,6289.9,5666.2,5042.5,4418.8,3795.1,3171.1]}}}},
{"data":{"name":"ar"},
 "mark":{"type":"rule","color":"#c0c0c0","strokeWidth":3,"clip":true},
 "encoding":{
  "x":{"field":"t1","type":"temporal","scale":{"type":"utc"},
   "axis":{"orient":"bottom","title":null,"grid":false,"domain":false,"format":"%-d %b %Y","formatType":"utc","labelExpr":"utcFormat(datum.value, '%-d %b %Y')","labelAlign":"left","labelBaseline":"top","labelPadding":1,"tickSize":4,"tickColor":"black","labelFont":"Liberation Sans","labelFontSize":8.5,"labelColor":"black","labelOverlap":false,"labelFlush":false,"labelBound":false,"values":[1548720000000,1551484800000,1554249600000,1557014400000,1559779200000,1562544000000,1565308800000,1568073600000,1570838400000,1573603200000,1576368000000,1579132800000,1581897600000,1584662400000,1587427200000,1590192000000]}},
  "x2":{"field":"t2"},
  "y":{"field":"p1","type":"quantitative",
   "axis":{"orient":"right","title":null,"grid":false,"domain":false,"format":".2f","offset":1,"tickSize":3,"tickColor":"black","labelPadding":2,"labelFont":"Liberation Sans","labelFontSize":8.5,"labelColor":"black","labelOverlap":false,"labelFlush":false,"labelBound":false,"values":[13812.1,13188.4,12564.7,11941,11317.3,10674.7,10051,8803.6,8179.9,7556.2,6913.6,6289.9,5666.2,5042.5,4418.8,3795.1,3171.1]}},
  "y2":{"field":"p2"}}},
{"data":{"name":"ar"},
 "mark":{"type":"point","shape":"M0,0L-0.5,1.2L0.5,1.2Z","filled":true,"color":"#c0c0c0","opacity":1,"size":576,"strokeWidth":0},
 "encoding":{
  "x":{"field":"t2","type":"temporal","scale":{"type":"utc"},
   "axis":{"orient":"bottom","title":null,"grid":false,"domain":false,"format":"%-d %b %Y","formatType":"utc","labelExpr":"utcFormat(datum.value, '%-d %b %Y')","labelAlign":"left","labelBaseline":"top","labelPadding":1,"tickSize":4,"tickColor":"black","labelFont":"Liberation Sans","labelFontSize":8.5,"labelColor":"black","labelOverlap":false,"labelFlush":false,"labelBound":false,"values":[1548720000000,1551484800000,1554249600000,1557014400000,1559779200000,1562544000000,1565308800000,1568073600000,1570838400000,1573603200000,1576368000000,1579132800000,1581897600000,1584662400000,1587427200000,1590192000000]}},
  "y":{"field":"p2","type":"quantitative",
   "axis":{"orient":"right","title":null,"grid":false,"domain":false,"format":".2f","offset":1,"tickSize":3,"tickColor":"black","labelPadding":2,"labelFont":"Liberation Sans","labelFontSize":8.5,"labelColor":"black","labelOverlap":false,"labelFlush":false,"labelBound":false,"values":[13812.1,13188.4,12564.7,11941,11317.3,10674.7,10051,8803.6,8179.9,7556.2,6913.6,6289.9,5666.2,5042.5,4418.8,3795.1,3171.1]}},
  "angle":{"field":"a","type":"quantitative","scale":{"domain":[1,2,3,4,5],"range":[14.5,151.2,13.6,135.6,11.4]},"legend":null}}},
{"data":{"name":"mk"},
 "mark":{"type":"point","shape":"triangle-down","filled":true,"color":"#a0a0a0","opacity":1,"size":45,"strokeWidth":0},
 "encoding":{
  "x":{"field":"t","type":"temporal","scale":{"type":"utc"},
   "axis":{"orient":"bottom","title":null,"grid":false,"domain":false,"format":"%-d %b %Y","formatType":"utc","labelExpr":"utcFormat(datum.value, '%-d %b %Y')","labelAlign":"left","labelBaseline":"top","labelPadding":1,"tickSize":4,"tickColor":"black","labelFont":"Liberation Sans","labelFontSize":8.5,"labelColor":"black","labelOverlap":false,"labelFlush":false,"labelBound":false,"values":[1548720000000,1551484800000,1554249600000,1557014400000,1559779200000,1562544000000,1565308800000,1568073600000,1570838400000,1573603200000,1576368000000,1579132800000,1581897600000,1584662400000,1587427200000,1590192000000]}},
  "y":{"field":"p","type":"quantitative",
   "axis":{"orient":"right","title":null,"grid":false,"domain":false,"format":".2f","offset":1,"tickSize":3,"tickColor":"black","labelPadding":2,"labelFont":"Liberation Sans","labelFontSize":8.5,"labelColor":"black","labelOverlap":false,"labelFlush":false,"labelBound":false,"values":[13812.1,13188.4,12564.7,11941,11317.3,10674.7,10051,8803.6,8179.9,7556.2,6913.6,6289.9,5666.2,5042.5,4418.8,3795.1,3171.1]}}}},
{"data":{"name":"tip"},
 "mark":{"type":"rect","fill":"#ffffe1","stroke":"black","strokeWidth":1},
 "encoding":{
  "x":{"field":"t1","type":"temporal","scale":{"type":"utc"},
   "axis":{"orient":"bottom","title":null,"grid":false,"domain":false,"format":"%-d %b %Y","formatType":"utc","labelExpr":"utcFormat(datum.value, '%-d %b %Y')","labelAlign":"left","labelBaseline":"top","labelPadding":1,"tickSize":4,"tickColor":"black","labelFont":"Liberation Sans","labelFontSize":8.5,"labelColor":"black","labelOverlap":false,"labelFlush":false,"labelBound":false,"values":[1548720000000,1551484800000,1554249600000,1557014400000,1559779200000,1562544000000,1565308800000,1568073600000,1570838400000,1573603200000,1576368000000,1579132800000,1581897600000,1584662400000,1587427200000,1590192000000]}},
  "x2":{"field":"t2"},
  "y":{"field":"p1","type":"quantitative",
   "axis":{"orient":"right","title":null,"grid":false,"domain":false,"format":".2f","offset":1,"tickSize":3,"tickColor":"black","labelPadding":2,"labelFont":"Liberation Sans","labelFontSize":8.5,"labelColor":"black","labelOverlap":false,"labelFlush":false,"labelBound":false,"values":[13812.1,13188.4,12564.7,11941,11317.3,10674.7,10051,8803.6,8179.9,7556.2,6913.6,6289.9,5666.2,5042.5,4418.8,3795.1,3171.1]}},
  "y2":{"field":"p2"}}},
{"data":{"name":"tip"},
 "mark":{"type":"text","align":"left","baseline":"middle","font":"Liberation Sans","fontSize":10.5,"color":"black"},
 "encoding":{
  "x":{"field":"tt","type":"temporal","scale":{"type":"utc"},
   "axis":{"orient":"bottom","title":null,"grid":false,"domain":false,"format":"%-d %b %Y","formatType":"utc","labelExpr":"utcFormat(datum.value, '%-d %b %Y')","labelAlign":"left","labelBaseline":"top","labelPadding":1,"tickSize":4,"tickColor":"black","labelFont":"Liberation Sans","labelFontSize":8.5,"labelColor":"black","labelOverlap":false,"labelFlush":false,"labelBound":false,"values":[1548720000000,1551484800000,1554249600000,1557014400000,1559779200000,1562544000000,1565308800000,1568073600000,1570838400000,1573603200000,1576368000000,1579132800000,1581897600000,1584662400000,1587427200000,1590192000000]}},
  "y":{"field":"tp","type":"quantitative",
   "axis":{"orient":"right","title":null,"grid":false,"domain":false,"format":".2f","offset":1,"tickSize":3,"tickColor":"black","labelPadding":2,"labelFont":"Liberation Sans","labelFontSize":8.5,"labelColor":"black","labelOverlap":false,"labelFlush":false,"labelBound":false,"values":[13812.1,13188.4,12564.7,11941,11317.3,10674.7,10051,8803.6,8179.9,7556.2,6913.6,6289.9,5666.2,5042.5,4418.8,3795.1,3171.1]}},
  "text":{"field":"s"}}},
{"data":{"name":"cur"},
 "mark":{"type":"rect","fill":"black","clip":false},
 "encoding":{
  "x":{"field":"t1","type":"temporal","scale":{"type":"utc"},
   "axis":{"orient":"bottom","title":null,"grid":false,"domain":false,"format":"%-d %b %Y","formatType":"utc","labelExpr":"utcFormat(datum.value, '%-d %b %Y')","labelAlign":"left","labelBaseline":"top","labelPadding":1,"tickSize":4,"tickColor":"black","labelFont":"Liberation Sans","labelFontSize":8.5,"labelColor":"black","labelOverlap":false,"labelFlush":false,"labelBound":false,"values":[1548720000000,1551484800000,1554249600000,1557014400000,1559779200000,1562544000000,1565308800000,1568073600000,1570838400000,1573603200000,1576368000000,1579132800000,1581897600000,1584662400000,1587427200000,1590192000000]}},
  "x2":{"field":"t2"},
  "y":{"field":"p1","type":"quantitative",
   "axis":{"orient":"right","title":null,"grid":false,"domain":false,"format":".2f","offset":1,"tickSize":3,"tickColor":"black","labelPadding":2,"labelFont":"Liberation Sans","labelFontSize":8.5,"labelColor":"black","labelOverlap":false,"labelFlush":false,"labelBound":false,"values":[13812.1,13188.4,12564.7,11941,11317.3,10674.7,10051,8803.6,8179.9,7556.2,6913.6,6289.9,5666.2,5042.5,4418.8,3795.1,3171.1]}},
  "y2":{"field":"p2"}}},
{"data":{"name":"cur"},
 "mark":{"type":"text","align":"left","baseline":"middle","font":"Liberation Sans","fontSize":8.5,"color":"white","clip":false},
 "encoding":{
  "x":{"field":"tt","type":"temporal","scale":{"type":"utc"},
   "axis":{"orient":"bottom","title":null,"grid":false,"domain":false,"format":"%-d %b %Y","formatType":"utc","labelExpr":"utcFormat(datum.value, '%-d %b %Y')","labelAlign":"left","labelBaseline":"top","labelPadding":1,"tickSize":4,"tickColor":"black","labelFont":"Liberation Sans","labelFontSize":8.5,"labelColor":"black","labelOverlap":false,"labelFlush":false,"labelBound":false,"values":[1548720000000,1551484800000,1554249600000,1557014400000,1559779200000,1562544000000,1565308800000,1568073600000,1570838400000,1573603200000,1576368000000,1579132800000,1581897600000,1584662400000,1587427200000,1590192000000]}},
  "y":{"field":"tp","type":"quantitative",
   "axis":{"orient":"right","title":null,"grid":false,"domain":false,"format":".2f","offset":1,"tickSize":3,"tickColor":"black","labelPadding":2,"labelFont":"Liberation Sans","labelFontSize":8.5,"labelColor":"black","labelOverlap":false,"labelFlush":false,"labelBound":false,"values":[13812.1,13188.4,12564.7,11941,11317.3,10674.7,10051,8803.6,8179.9,7556.2,6913.6,6289.9,5666.2,5042.5,4418.8,3795.1,3171.1]}},
  "text":{"field":"s"}}}
]
}
